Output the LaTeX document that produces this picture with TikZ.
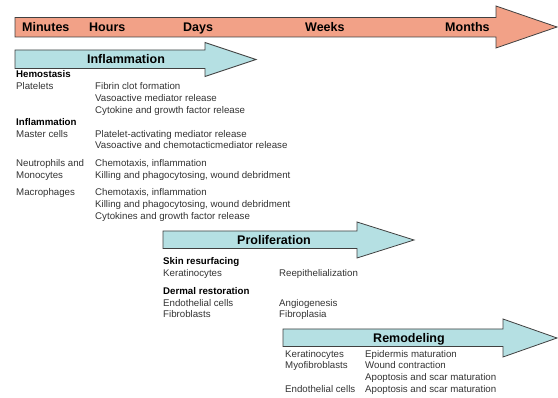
\documentclass[tikz,border=0pt]{standalone}
\usepackage{fontspec}
\setmainfont{Liberation Sans}
\usepackage{tikz}
\usetikzlibrary{positioning}
\definecolor{salmon}{rgb}{0.95, 0.63, 0.53}
\definecolor{paleteal}{rgb}{0.71, 0.88, 0.89}
\definecolor{edgegray}{rgb}{0.25, 0.25, 0.25}
\definecolor{txtgray}{rgb}{0.2, 0.2, 0.2}
\tikzset{
  cell/.style={anchor=base west, inner sep=0pt, text=txtgray, font=\fontsize{9.7}{11}\selectfont},
  group/.style={cell, text=black, font=\fontsize{9.7}{11}\selectfont\bfseries},
  stage/.style={inner sep=0pt, text=black, font=\fontsize{12.5}{14}\selectfont\bfseries},
  timebar/.style={draw=edgegray, fill=salmon, line width=0.8pt},
  phasebar/.style={draw=edgegray, fill=paleteal, line width=0.8pt}
}
\begin{document}
\begin{tikzpicture}[x=1pt, y=-1pt]
            \useasboundingbox (0,0) rectangle (558,398);
            % Time axis
            \draw[timebar] (15,17.5) -- (496,17.5) -- (496,6) -- (557,27) -- (496,48) -- (496,37) -- (15,37) -- cycle;
            \node[stage, anchor=base west] (min) at (22,31.5) {Minutes};
            \node[stage, anchor=base west] (hrs) at (89,31.5) {Hours};
            \node[stage, anchor=base west] (days) at (183,31.5) {Days};
            \node[stage, anchor=base west] (wks) at (305,31.5) {Weeks};
            \node[stage, anchor=base west] (mths) at (445,31.5) {Months};

            % Inflammation
            \draw[phasebar] (15,50) -- (205,50) -- (205,42.5) -- (256,59.5) -- (205,76.5) -- (205,68.5) -- (15,68.5) -- cycle;
            \node[stage, anchor=base] (infl) at (126,63.5) {Inflammation};
            \node[group] (hemo) at (16,77.5) {Hemostasis};
            \node[cell] (plt) at (16,89.5) {Platelets};
            \node[cell] (plt1) at (95,89.5) {Fibrin clot formation};
            \node[cell] (plt2) at (95,101.5) {Vasoactive mediator release};
            \node[cell] (plt3) at (95,113.5) {Cytokine and growth factor release};
            \node[group] (inflhd) at (16,125.5) {Inflammation};
            \node[cell] (mast) at (16,137.5) {Master cells};
            \node[cell] (mast1) at (95,137.5) {Platelet-activating mediator release};
            \node[cell] (mast2) at (95,149) {Vasoactive and chemotacticmediator release};
            \node[cell] (neut) at (16,166.5) {Neutrophils and};
            \node[cell] (mono) at (16,178.5) {Monocytes};
            \node[cell] (neut1) at (95,166.5) {Chemotaxis, inflammation};
            \node[cell] (neut2) at (95,178.5) {Killing and phagocytosing, wound debridment};
            \node[cell] (macr) at (16,195.5) {Macrophages};
            \node[cell] (macr1) at (95,195.5) {Chemotaxis, inflammation};
            \node[cell] (macr2) at (95,207.5) {Killing and phagocytosing, wound debridment};
            \node[cell] (macr3) at (95,219.5) {Cytokines and growth factor release};

            % Proliferation
            \draw[phasebar] (163,231) -- (357,231) -- (357,222) -- (414,240) -- (357,258) -- (357,248.5) -- (163,248.5) -- cycle;
            \node[stage, anchor=base] (prol) at (274,244.5) {Proliferation};
            \node[group] (skin) at (163,264.5) {Skin resurfacing};
            \node[cell] (kera) at (163,276.5) {Keratinocytes};
            \node[cell] (kera1) at (279,276.5) {Reepithelialization};
            \node[group] (derm) at (163,294.5) {Dermal restoration};
            \node[cell] (endo) at (163,306.5) {Endothelial cells};
            \node[cell] (endo1) at (279,306.5) {Angiogenesis};
            \node[cell] (fibr) at (163,318) {Fibroblasts};
            \node[cell] (fibr1) at (279,318) {Fibroplasia};

            % Remodeling
            \draw[phasebar] (283,329) -- (503,329) -- (503,319) -- (557,338) -- (503,357) -- (503,346.5) -- (283,346.5) -- cycle;
            \node[stage, anchor=base] (remo) at (409,343) {Remodeling};
            \node[cell] (rkera) at (285,357.5) {Keratinocytes};
            \node[cell] (rkera1) at (365,357.5) {Epidermis maturation};
            \node[cell] (myof) at (285,369) {Myofibroblasts};
            \node[cell] (myof1) at (365,369) {Wound contraction};
            \node[cell] (myof2) at (365,381) {Apoptosis and scar maturation};
            \node[cell] (rendo) at (285,393) {Endothelial cells};
            \node[cell] (rendo1) at (365,393) {Apoptosis and scar maturation};

        \end{tikzpicture}
\end{document}
